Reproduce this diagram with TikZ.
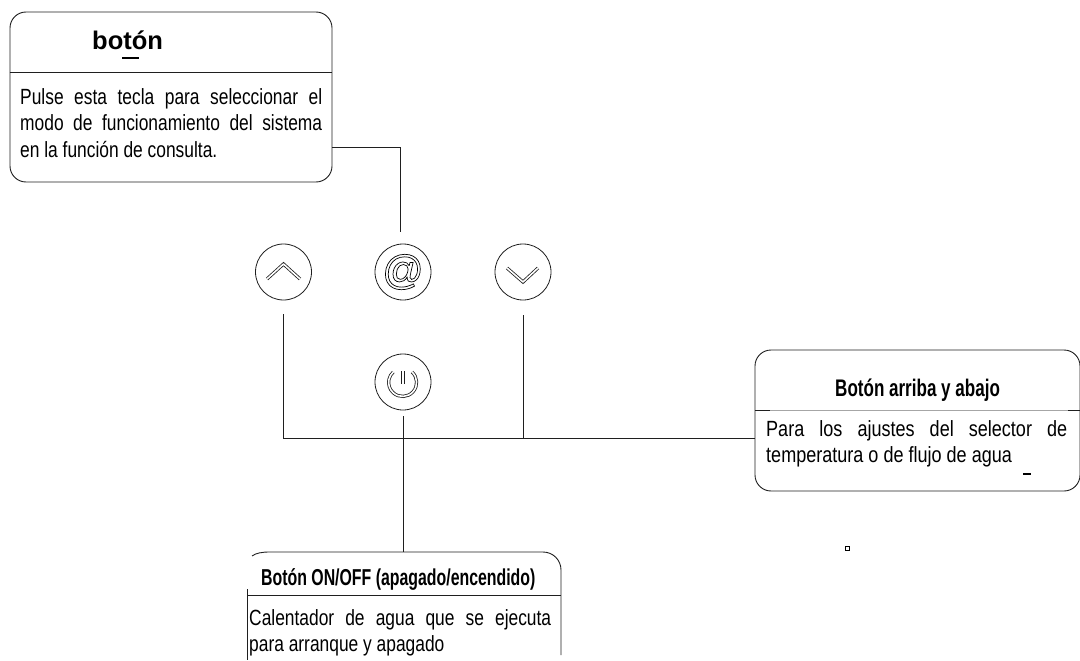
\documentclass[tikz,border=0pt]{standalone}
\usepackage{fontspec}
\setmainfont{Liberation Sans}
\newfontfamily\narrowfont[FakeStretch=0.79]{Liberation Sans}
\newfontfamily\widerfont[FakeStretch=0.82]{Liberation Sans}
\newfontfamily\headfontb[FakeStretch=0.71]{Liberation Sans}
\newfontfamily\headfontc[FakeStretch=0.69]{Liberation Sans}
\usetikzlibrary{calc}
\definecolor{ink}{gray}{0.12}
\definecolor{soft}{gray}{0.65}
\tikzset{
  line/.style={draw=ink,line width=0.9pt},
  panel/.style={line,rounded corners=16pt,inner sep=0pt},
  keycirc/.style={circle,draw=ink,line width=0.8pt,minimum size=56pt,inner sep=0pt},
  glyph/.style={line width=1.6pt,white,line cap=round,line join=round,preaction={draw=ink,line width=3.2pt}},
  bodytext/.style={anchor=base west,inner sep=0pt,align=justify,font=\narrowfont\fontsize{22}{26.5}\selectfont,text=black},
  bodytextb/.style={bodytext,font=\widerfont\fontsize{22}{26.5}\selectfont},
  headcond/.style={anchor=base west,inner sep=0pt,text=black},
  flaw/.style={line width=1.4pt,draw=black}
}
\begin{document}
\begin{tikzpicture}[x=1pt,y=-1pt]
\useasboundingbox (0,0) rectangle (1080,661);
% top-left panel
\node[panel,draw,minimum width=322pt,minimum height=170pt] (boxa) at (171,97) {};
\draw[line] (boxa.west |- 0,72) -- (boxa.east |- 0,72);
\node[anchor=base west,inner sep=0pt,font=\bfseries\fontsize{25.5}{30}\selectfont] (heada) at (92,50) {botón};
\node[bodytext,text width=302pt] (texta) at (20,104.5) {Pulse esta tecla para seleccionar el\linebreak modo de funcionamiento del sistema\linebreak en la función de consulta.};
\draw[flaw] (122,58) -- (139,58);
% keys
\node[keycirc] (keyup) at (283.5,272) {};
\node[keycirc] (keyat) at (403,272) {\fontsize{41}{41}\selectfont\special{pdf:code 1 Tr 0.7 w}@\special{pdf:code 0 Tr}};
\node[keycirc] (keydown) at (523,272) {};
\node[keycirc] (keypower) at (403,382) {};
\draw[glyph] (267,279) -- (283.5,264) -- (300,279);
\draw[glyph] (507,268) -- (523,282) -- (538,268);
\draw[glyph] (412,372) arc[start angle=-48,end angle=228,radius=14,x=1pt,y=1pt];
\draw[glyph] (403,371) -- (403,384);
% right panel
\node[panel,draw,minimum width=325pt,minimum height=141pt] (boxb) at (917.5,420.5) {};
\draw[draw=soft,line width=0.9pt] (770,410.5) -- (1068,410.5);
\draw[line] (755,410.5) -- (770,410.5) (1068,410.5) -- (1080,410.5);
\node[headcond,font=\headfontb\bfseries\fontsize{24}{28}\selectfont] (headb) at (835,396) {Botón arriba y abajo};
\node[bodytextb,text width=301pt] (textb) at (766,436) {Para los ajustes del selector de\linebreak temperatura o de flujo de agua};
\draw[flaw] (1023,474) -- (1031,474);
\node[draw=black,line width=0.9pt,minimum size=4pt,inner sep=0pt] (speck) at (847,548) {};
% bottom panel
\coordinate (boxctop) at (403,552);
\draw[line] (252,556) .. controls (256,553) and (262,552) .. (270,552) -- (boxctop) -- (543,552) .. controls (553,552) and (561,560) .. (561,570) -- (561,655);
\draw[line] (247,589) -- (247,660);
\draw[line] (247,595) -- (561,595);
\node[headcond,font=\headfontc\bfseries\fontsize{23}{27}\selectfont] (headc) at (261,585) {Botón ON/OFF (apagado/encendido)};
\node[bodytext,text width=302pt] (textc) at (249,625) {Calentador de agua que se ejecuta\linebreak para arranque y apagado};
% connectors
\coordinate (atfoot) at (400,232);
\coordinate (upend) at (283.5,314);
\coordinate (downend) at (523,315);
\coordinate (powerend) at (403,416);
\draw[line] (boxa.east |- 0,147) -| (atfoot);
\draw[line] (upend) |- (boxb.west |- 0,438);
\draw[line] (downend) -- (523,438);
\draw[line] (powerend) -- (boxctop);
\end{tikzpicture}
\end{document}
